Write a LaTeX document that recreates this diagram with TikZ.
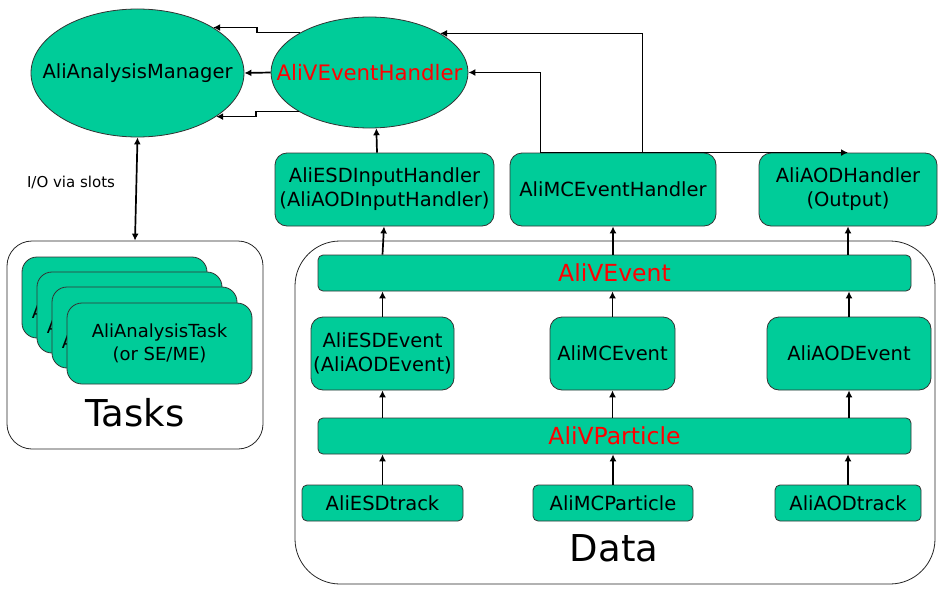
\documentclass[tikz,border=0pt]{standalone}
\usepackage{fontspec}
\setmainfont{DejaVu Sans}
\usetikzlibrary{arrows.meta,calc,shapes.geometric}
\definecolor{boxgreen}{RGB}{0,204,153}
\definecolor{vred}{RGB}{255,0,0}
\begin{document}
\begin{tikzpicture}[x=1pt,y=-1pt,
  box/.style={draw=black!80, line width=0.8pt, fill=boxgreen, rounded corners=#1, inner sep=0pt, align=center, font=\fontsize{19.5pt}{24pt}\selectfont},
  box/.default=12pt,
  ell/.style={ellipse, draw=black!80, line width=0.8pt, fill=boxgreen, inner sep=0pt},
  cont/.style={draw=black!85, line width=0.8pt, fill=white, rounded corners=#1, inner sep=0pt},
  arr/.style={line width=1.7pt, -{Latex[length=7pt,width=7pt]}},
  darr/.style={line width=1.7pt, {Latex[length=7pt,width=7pt]}-{Latex[length=7pt,width=7pt]}},
  lbl/.style={inner sep=0pt, font=\fontsize{19.5pt}{24pt}\selectfont},
  redlbl/.style={inner sep=0pt, text=vred, font=\fontsize{23.5pt}{28pt}\selectfont},
  big/.style={inner sep=0pt, font=\fontsize{37pt}{44pt}\selectfont},
  taskbox/.style={draw=black!80, line width=0.8pt, fill=boxgreen, rounded corners=15pt, inner sep=0pt, minimum width=185pt, minimum height=81pt, align=center, font=\fontsize{18pt}{23pt}\selectfont},
  peek/.style={anchor=west, inner sep=0pt, font=\fontsize{18pt}{23pt}\selectfont},
]
\useasboundingbox (0,0) rectangle (945,594);

% containers
\node[cont=45pt, minimum width=640pt, minimum height=343pt] (data) at (615,412.5) {};
\node[cont=25pt, minimum width=256pt, minimum height=208pt] (tasks) at (135,345) {};
\node[big] (datalbl) at (614,548) {Data};
\node[big] (taskslbl) at (135,413) {Tasks};

% ellipses
\node[ell, minimum width=213pt, minimum height=128pt] (mgr) at (137.5,73) {};
\node[lbl] (mgrlbl) at (mgr.center) {AliAnalysisManager};
\node[ell, minimum width=197pt, minimum height=111pt] (veh) at (369.5,72.5) {};
\node[inner sep=0pt, text=vred, font=\fontsize{21.3pt}{25pt}\selectfont] (vehlbl) at (veh.center) {AliVEventHandler};

% handlers
\node[box, minimum width=219pt, minimum height=73pt] (esdh) at (384.5,189.5) {AliESDInputHandler\\(AliAODInputHandler)};
\node[box, minimum width=206pt, minimum height=73pt] (mch) at (613,189.5) {AliMCEventHandler};
\node[box, minimum width=178pt, minimum height=73pt] (aodh) at (848,189.5) {AliAODHandler\\(Output)};

% data
\node[box=5pt, minimum width=593pt, minimum height=36pt] (ve) at (614.5,273) {};
\node[redlbl] (velbl) at (ve.center) {AliVEvent};
\node[box, minimum width=143pt, minimum height=73pt] (esde) at (382.5,353.5) {AliESDEvent\\(AliAODEvent)};
\node[box, minimum width=125pt, minimum height=73pt] (mce) at (612.5,353.5) {AliMCEvent};
\node[box, minimum width=164pt, minimum height=73pt] (aode) at (849,353.5) {AliAODEvent};
\node[box=5pt, minimum width=593pt, minimum height=36pt] (vp) at (614.5,436) {};
\node[redlbl] (vplbl) at (vp.center) {AliVParticle};
\node[box=5pt, minimum width=161pt, minimum height=36pt] (esdt) at (382.5,503) {AliESDtrack};
\node[box=5pt, minimum width=160pt, minimum height=36pt] (mct) at (613,503) {AliMCParticle};
\node[box=5pt, minimum width=146pt, minimum height=36pt] (aodt) at (848,503) {AliAODtrack};

% tasks stack (only the first letter of the hidden labels peeks out)
\node[taskbox] (t1) at (114.5,297.5) {};
\node[peek] (t1l) at ($(t1.west)+(10,14)$) {A};
\node[taskbox] (t2) at (129.5,312.5) {};
\node[peek] (t2l) at ($(t2.west)+(10,14)$) {A};
\node[taskbox] (t3) at (144.5,327.5) {};
\node[peek] (t3l) at ($(t3.west)+(10,14)$) {A};
\node[taskbox] (t4) at (159.5,343.5) {AliAnalysisTask\\(or SE/ME)};

\node[inner sep=0pt, font=\fontsize{15pt}{18pt}\selectfont] (io) at (71,182) {I/O via slots};

% connectors: manager / handler
\draw[arr] (veh.west) -- (mgr.east);
\draw[arr] (veh.150.3) -- ++(-43,0) |- (mgr.31.9);
\draw[arr] (veh.209.7) -- ++(-43,0) |- (mgr.331.4);
\draw[darr] (mgr.south) -- (tasks.north);

% handlers to veh
\draw[arr] ($(esdh.north)+(-7.5,0)$) -- (veh.277.7);
\coordinate (mcA) at ($(mch.north west)+(31,0)$);
\coordinate (mcB) at ($(mch.north west)+(133,0)$);
\draw[arr] (mcA) |- (veh.east);
\draw[arr] (mcB) |- (veh.29.7);
\draw[arr] (mcA) -- (aodh.north);

% columns
\draw[arr] (esdt.north) -- (esdt.north |- vp.south);
\draw[arr] (mct.north) -- (mct.north |- vp.south);
\draw[arr] (aodt.north) -- (aodt.north |- vp.south);
\draw[arr] (vp.north -| esde.south) -- (esde.south);
\draw[arr] (vp.north -| mce.south) -- (mce.south);
\draw[arr] (vp.north -| aode.south) -- (aode.south);
\draw[arr] (esde.north) -- (esde.north |- ve.south);
\draw[arr] (mce.north) -- (mce.north |- ve.south);
\draw[arr] (aode.north) -- (aode.north |- ve.south);
\draw[arr] (ve.north -| esde.north) -- ($(esdh.south)+(-0.5,0)$);
\draw[arr] (ve.north -| mch.south) -- (mch.south);
\draw[arr] (ve.north -| aodh.south) -- (aodh.south);
\end{tikzpicture}
\end{document}
